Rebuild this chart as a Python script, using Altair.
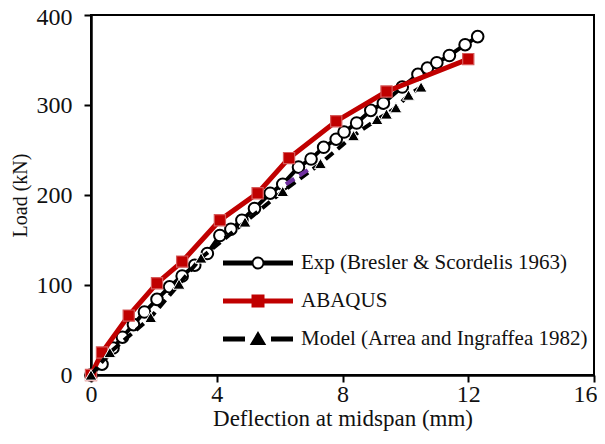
import altair as alt
import pandas as pd

S_EXP = "Exp (Bresler & Scordelis 1963)"
S_ABQ = "ABAQUS"
S_MOD = "Model (Arrea and Ingraffea 1982)"

exp_x = [0, 0.35, 0.7, 1.0, 1.35, 1.7, 2.1, 2.5, 2.9, 3.3, 3.7, 4.1, 4.45, 4.8, 5.2, 5.7,
         6.1, 6.6, 7.0, 7.4, 7.8, 8.05, 8.45, 8.9, 9.3, 9.9, 10.4, 10.7, 11.0, 11.4, 11.9, 12.3]
exp_y = [0, 12, 30, 42, 56, 70, 84, 98, 110, 122, 135, 155, 162, 172, 185, 202,
         212, 231, 240, 253, 262, 270, 280, 294, 302, 320, 334, 341, 347, 355, 367, 376]

abq_x = [0, 0.35, 1.2, 2.1, 2.9, 4.1, 5.3, 6.3, 7.8, 9.4, 12.0]
abq_y = [0, 25, 66, 102, 126, 172, 202, 241, 282, 315, 351]

mod_x = [0, 0.6, 1.9, 2.8, 3.5, 4.9, 6.1, 7.3, 8.35, 9.1, 9.4, 9.7, 10.1, 10.5]
mod_y = [0, 25, 64, 101, 130, 170, 204, 235, 266, 284, 290, 297, 311, 320]

purple_x = [6.2, 7.0]
purple_y = [212, 230]

x_ticks = [0, 4, 8, 12, 16]
y_ticks = [0, 100, 200, 300, 400]

series = [S_EXP, S_ABQ, S_MOD]

rows = []
for s, xs, ys in [(S_EXP, exp_x, exp_y), (S_ABQ, abq_x, abq_y), (S_MOD, mod_x, mod_y)]:
    for a, b in zip(xs, ys):
        rows.append({"series": s, "x": a, "y": b})
df = pd.DataFrame(rows)
df_p = pd.DataFrame({"x": purple_x, "y": purple_y})

RED = "#C00000"
FONT = "Liberation Serif"
last_x = x_ticks[-1]
last_y = y_ticks[-1]

X = alt.X("x:Q", scale=alt.Scale(domain=[0, 16], nice=False),
          axis=alt.Axis(values=x_ticks, title="Deflection at midspan (mm)", labelPadding=0,
                        titlePadding=1, labelFlush=False, titleFontSize=23, labelFontSize=24,
                        labelAlign=alt.condition(f"datum.value == {last_x}", alt.value("right"), alt.value("center")),
                        labelOffset=alt.condition(f"datum.value == {last_x}", alt.value(3), alt.value(0))))
Y = alt.Y("y:Q", scale=alt.Scale(domain=[0, 400], nice=False),
          axis=alt.Axis(values=y_ticks, title="Load (kN)", labelPadding=12, titlePadding=6,
                        labelFlush=False, titleFontSize=20, labelFontSize=24,
                        labelOffset=alt.condition(f"datum.value == {last_y}", alt.value(2), alt.value(0))))

base = alt.Chart(df).encode(x=X, y=Y)


def sub(s):
    return base.transform_filter(alt.datum.series == s)


exp_line = sub(S_EXP).mark_line(color="black", strokeWidth=4)
exp_pts = sub(S_EXP).mark_point(shape="circle", size=135, filled=True, fill="white",
                                stroke="black", strokeWidth=2, opacity=1)
abq_line = sub(S_ABQ).mark_line(color=RED, strokeWidth=5)
abq_pts = sub(S_ABQ).mark_point(shape="square", size=125, filled=True, fill=RED,
                                stroke="#D65A5A", strokeWidth=1.2, opacity=1)
mod_line = sub(S_MOD).mark_line(color="black", strokeWidth=4, strokeDash=[10, 6])
mod_pts = sub(S_MOD).mark_point(shape="triangle-up", size=140, filled=True, fill="black",
                                stroke="white", strokeWidth=1, opacity=1)
purple = alt.Chart(df_p).mark_line(color="#7030A0", strokeWidth=4, strokeDash=[10, 6]).encode(x=X, y=Y)

# legend symbols (line + marker) as custom paths
offs = [-0.15, 0, 0.15]
exp_path = "".join(f"M-3.5,{o}H-0.55M0.55,{o}H3.5" for o in offs) + \
    "M0.55,0A0.55,0.55,0,1,1,-0.55,0A0.55,0.55,0,1,1,0.55,0Z"
abq_path = "".join(f"M-3.5,{o}H3.5" for o in offs) + "M-0.55,-0.55H0.55V0.55H-0.55Z"
mod_path = "".join(f"M-3.5,{o}H-1.3M1.3,{o}H3.5" for o in offs) + "M0,-0.6L0.65,0.5L-0.65,0.5Z"

leg = alt.Legend(title=None, orient="none", legendX=156, legendY=237, padding=0,
                 labelFont=FONT, labelFontSize=21, labelColor="#111", labelOffset=32,
                 rowPadding=17, symbolSize=400, symbolStrokeWidth=2, labelLimit=400)

legend_layer = base.transform_filter("false").mark_point(size=400, strokeWidth=2, opacity=1, filled=False).encode(
    shape=alt.Shape("series:N", scale=alt.Scale(domain=series, range=[exp_path, abq_path, mod_path]), legend=leg),
    fill=alt.Fill("series:N", scale=alt.Scale(domain=series, range=["white", RED, "black"]), legend=leg),
    stroke=alt.Stroke("series:N", scale=alt.Scale(domain=series, range=["black", RED, "black"]), legend=leg),
)

chart = alt.layer(exp_line, exp_pts, abq_line, abq_pts, mod_line, purple, mod_pts, legend_layer).properties(
    width=503, height=360,
    autosize=alt.AutoSizeParams(type="none"),
    padding={"left": 83, "top": 7, "right": 3, "bottom": 58},
).configure_view(stroke="black", strokeWidth=2).configure_axis(
    grid=False, domainColor="black", domainWidth=2.5, tickColor="black", tickWidth=2, tickSize=7,
    labelFont=FONT, labelColor="#111", titleFont=FONT,
    titleFontWeight="normal", titleColor="#111",
)

chart.save("out.html", embed_options={"renderer": "svg", "actions": False})
